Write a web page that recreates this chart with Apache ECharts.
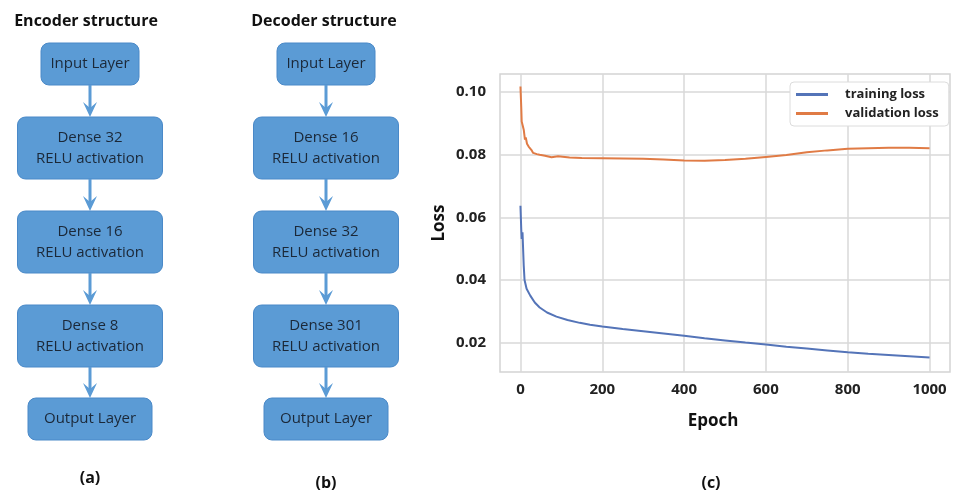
<!DOCTYPE html>
<html>
<head>
<meta charset="utf-8">
<script src="https://cdn.jsdelivr.net/npm/echarts@6/dist/echarts.min.js"></script>
<style>
  html, body { margin: 0; padding: 0; background: #fff; }
  #chart { width: 953px; height: 493px; }
</style>
</head>
<body>
<div id="chart"></div>
<script>
const encoderLayers = ['Input Layer', 'Dense 32\nRELU activation', 'Dense 16\nRELU activation', 'Dense 8\nRELU activation', 'Output Layer'];
const decoderLayers = ['Input Layer', 'Dense 16\nRELU activation', 'Dense 32\nRELU activation', 'Dense 301\nRELU activation', 'Output Layer'];

const trainingEpochs = [0, 2, 3, 5, 8, 10, 15, 24, 35, 47, 65, 88, 115, 145, 170, 200, 250, 300, 350, 400, 450, 500, 550, 600, 650, 700, 750, 800, 850, 900, 950, 1000];
const trainingLoss = [0.0637, 0.0560, 0.0531, 0.0552, 0.0446, 0.0400, 0.0372, 0.0350, 0.0328, 0.0312, 0.0296, 0.0283, 0.0272, 0.0263, 0.0257, 0.0251, 0.0243, 0.0236, 0.0229, 0.0222, 0.0214, 0.0207, 0.0200, 0.0194, 0.0187, 0.0181, 0.0175, 0.0169, 0.0164, 0.0160, 0.0156, 0.0152];

const validationEpochs = [0, 2, 3, 5, 8, 11, 13, 16, 20, 23, 27, 31, 40, 47, 60, 76, 92, 120, 150, 200, 250, 300, 350, 400, 450, 500, 550, 600, 650, 700, 750, 800, 850, 900, 950, 1000];
const validationLoss = [0.1018, 0.0950, 0.0906, 0.0896, 0.0880, 0.0848, 0.0855, 0.0835, 0.0826, 0.0822, 0.0815, 0.0806, 0.0802, 0.0800, 0.0797, 0.0792, 0.0795, 0.0791, 0.0790, 0.0789, 0.0788, 0.0787, 0.0785, 0.0782, 0.0781, 0.0783, 0.0787, 0.0793, 0.0799, 0.0808, 0.0814, 0.0819, 0.0821, 0.0822, 0.0822, 0.0821];

const xTicks = [0, 200, 400, 600, 800, 1000];
const yTicks = [0.02, 0.04, 0.06, 0.08, 0.10];

const FONT = '"Open Sans", sans-serif';
const BOX_FILL = '#5b9bd5';
const BOX_STROKE = '#4a89c8';
const TEXT_DARK = '#1b2838';

// row layout of a structure column: top, height, width
const rows = [
  { top: 43, h: 42, w: 98 },
  { top: 117, h: 62, w: 145 },
  { top: 211, h: 62, w: 145 },
  { top: 305, h: 62, w: 145 },
  { top: 398, h: 42, w: 124 },
];

const pairs = (xs, ys) => xs.map((x, i) => [x, ys[i]]);

const structureColumn = (layers, cx, title, titleX, caption, captionY) => {
  const els = [];
  els.push({
    type: 'text',
    style: { text: title, x: titleX, y: 21, align: 'center', verticalAlign: 'middle', font: `bold 16px ${FONT}`, fill: '#111' },
  });
  layers.forEach((label, i) => {
    const r = rows[i];
    els.push({
      type: 'rect',
      shape: { x: cx - r.w / 2, y: r.top, width: r.w, height: r.h, r: 8 },
      style: { fill: BOX_FILL, stroke: BOX_STROKE, lineWidth: 1 },
    });
    els.push({
      type: 'text',
      style: {
        text: label,
        x: cx,
        y: r.top + r.h / 2,
        align: 'center',
        verticalAlign: 'middle',
        lineHeight: 21,
        font: `15px ${FONT}`,
        fill: TEXT_DARK,
      },
    });
    if (i < layers.length - 1) {
      const from = r.top + r.h;
      const to = rows[i + 1].top;
      els.push({
        type: 'line',
        shape: { x1: cx, y1: from, x2: cx, y2: to - 8 },
        style: { stroke: BOX_FILL, lineWidth: 3 },
      });
      els.push({
        type: 'polygon',
        shape: { points: [[cx, to], [cx - 7, to - 15], [cx, to - 9], [cx + 7, to - 15]] },
        style: { fill: BOX_FILL },
      });
    }
  });
  els.push({
    type: 'text',
    style: { text: caption, x: cx, y: captionY, align: 'center', verticalAlign: 'middle', font: `bold 16px ${FONT}`, fill: '#111' },
  });
  return els;
};

const chart = echarts.init(document.getElementById('chart'), null, { renderer: 'canvas' });

const option = {
  backgroundColor: '#fff',
  animation: false,
  grid: {
    left: 500,
    top: 74,
    width: 450,
    height: 298,
    show: true,
    borderColor: '#d4d4d4',
    borderWidth: 1.5,
    backgroundColor: '#fff',
  },
  legend: {
    left: 790,
    top: 82,
    orient: 'vertical',
    backgroundColor: '#fff',
    borderColor: '#dcdcdc',
    borderWidth: 1,
    borderRadius: 4,
    padding: [6, 10, 6, 6],
    itemGap: 6,
    itemWidth: 32,
    itemHeight: 3,
    icon: 'rect',
    textStyle: { fontFamily: FONT, fontWeight: 'bold', fontSize: 13, color: '#222', padding: [0, 0, 0, 12] },
    data: ['training loss', 'validation loss'],
  },
  xAxis: {
    type: 'value',
    min: -50,
    max: 1050,
    name: 'Epoch',
    nameLocation: 'middle',
    nameGap: 41,
    nameTextStyle: { fontFamily: FONT, fontWeight: 'bold', fontSize: 17, color: '#111', padding: [0, 24, 0, 0] },
    axisLine: { show: false },
    axisTick: { show: false, customValues: xTicks },
    axisLabel: {
      customValues: xTicks,
      formatter: (v) => String(v),
      fontFamily: FONT,
      fontWeight: 'bold',
      fontSize: 15,
      color: '#222',
      margin: 10,
    },
    splitLine: { show: true, lineStyle: { color: '#d9d9d9', width: 1.5 } },
  },
  yAxis: {
    type: 'value',
    min: 0.0106,
    max: 0.1058,
    name: 'Loss',
    nameLocation: 'middle',
    nameGap: 52,
    nameRotate: 90,
    nameTextStyle: { fontFamily: FONT, fontWeight: 'bold', fontSize: 17, color: '#111' },
    axisLine: { show: false },
    axisTick: { show: false, customValues: yTicks },
    axisLabel: {
      customValues: yTicks,
      formatter: (v) => v.toFixed(2),
      fontFamily: FONT,
      fontWeight: 'bold',
      fontSize: 15,
      color: '#222',
      margin: 14,
    },
    splitLine: { show: true, lineStyle: { color: '#d9d9d9', width: 1.5 } },
  },
  series: [
    {
      name: 'training loss',
      type: 'line',
      data: pairs(trainingEpochs, trainingLoss),
      showSymbol: false,
      color: '#5474b8',
      lineStyle: { width: 2, color: '#5474b8' },
    },
    {
      name: 'validation loss',
      type: 'line',
      data: pairs(validationEpochs, validationLoss),
      showSymbol: false,
      color: '#e07b45',
      lineStyle: { width: 2, color: '#e07b45' },
    },
  ],
  graphic: [
    ...structureColumn(encoderLayers, 90, 'Encoder structure', 86, '(a)', 478),
    ...structureColumn(decoderLayers, 326, 'Decoder structure', 324, '(b)', 483),
    {
      type: 'text',
      style: { text: '(c)', x: 711, y: 483, align: 'center', verticalAlign: 'middle', font: `bold 16px ${FONT}`, fill: '#111' },
    },
  ],
};

chart.setOption(option);
</script>
</body>
</html>
